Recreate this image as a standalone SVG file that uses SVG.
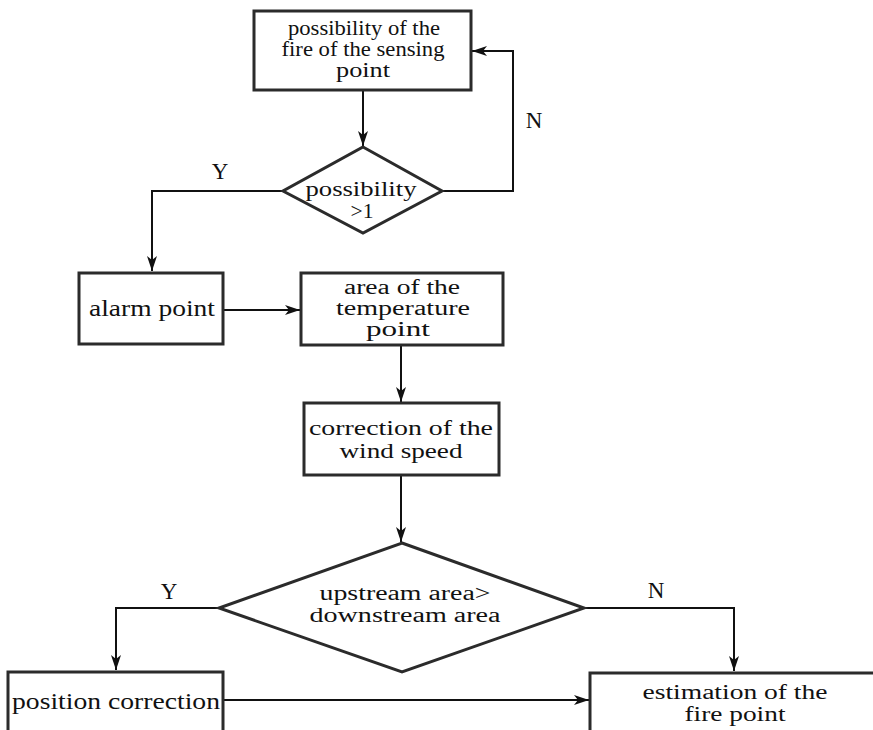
<svg xmlns="http://www.w3.org/2000/svg" width="873" height="730" viewBox="0 0 873 730">
<style>
.box{fill:#fff;stroke:#2b2b2b;stroke-width:3}
.dia{fill:#fff;stroke:#2b2b2b;stroke-width:3;stroke-linejoin:miter}
.t{font-family:"Liberation Serif","Times New Roman",serif;font-size:20px;fill:#111;text-anchor:middle}
.s{font-size:23px}
.lbl{font-family:"Liberation Serif","Times New Roman",serif;font-size:23px;fill:#111;text-anchor:middle}
.c{fill:none;stroke:#111;stroke-width:2}
</style>
<defs>
<marker id="ah" markerUnits="userSpaceOnUse" markerWidth="16" markerHeight="12" refX="15" refY="5" orient="auto">
<path d="M0,0 L15,5 L0,10 L4,5 z" fill="#111"/>
</marker>
</defs>
<rect width="873" height="730" fill="#fff"/>
<g id="connectors">
<path class="c" d="M363,91 L363,146" marker-end="url(#ah)"/>
<path class="c" d="M442,191 L513,191 L513,51 L472,51" marker-end="url(#ah)"/>
<path class="c" d="M283,191 L152,191 L152,271" marker-end="url(#ah)"/>
<path class="c" d="M223,310 L300,310" marker-end="url(#ah)"/>
<path class="c" d="M401,345 L401,402" marker-end="url(#ah)"/>
<path class="c" d="M401,475 L401,542" marker-end="url(#ah)"/>
<path class="c" d="M219,608 L116,608 L116,670" marker-end="url(#ah)"/>
<path class="c" d="M584,608 L734,608 L734,671" marker-end="url(#ah)"/>
<path class="c" d="M223,700 L589,700" marker-end="url(#ah)"/>
<text class="lbl" x="534" y="128">N</text>
<text class="lbl" x="220" y="179">Y</text>
<text class="lbl" x="169" y="599">Y</text>
<text class="lbl" x="656" y="598">N</text>
</g>
<g id="n-possibility">
<rect class="box" x="254" y="11" width="217" height="79"/>
<text class="t" x="364" y="35" textLength="152" lengthAdjust="spacingAndGlyphs">possibility of the</text>
<text class="t" x="363" y="56" textLength="163" lengthAdjust="spacingAndGlyphs">fire of the sensing</text>
<text class="t" x="363" y="77" textLength="54" lengthAdjust="spacingAndGlyphs">point</text>
</g>
<g id="n-decision1">
<polygon class="dia" points="363,147 442,191 363,233 283,191"/>
<text class="t" x="361" y="196" textLength="111" lengthAdjust="spacingAndGlyphs">possibility</text>
<text class="t" x="362" y="218" textLength="23" lengthAdjust="spacingAndGlyphs">&gt;1</text>
</g>
<g id="n-alarm">
<rect class="box" x="79" y="273" width="144" height="71"/>
<text class="t s" x="152" y="316" textLength="126" lengthAdjust="spacingAndGlyphs">alarm point</text>
</g>
<g id="n-area">
<rect class="box" x="301" y="273" width="202" height="72"/>
<text class="t" x="402" y="294" textLength="116" lengthAdjust="spacingAndGlyphs">area of the</text>
<text class="t" x="403" y="315" textLength="134" lengthAdjust="spacingAndGlyphs">temperature</text>
<text class="t" x="398" y="336" textLength="64" lengthAdjust="spacingAndGlyphs">point</text>
</g>
<g id="n-correction">
<rect class="box" x="304" y="403" width="195" height="72"/>
<text class="t" x="401" y="435" textLength="184" lengthAdjust="spacingAndGlyphs">correction of the</text>
<text class="t" x="401" y="458" textLength="123" lengthAdjust="spacingAndGlyphs">wind speed</text>
</g>
<g id="n-decision2">
<polygon class="dia" points="402,543 584,608 402,672 219,608"/>
<text class="t" x="405" y="600" textLength="171" lengthAdjust="spacingAndGlyphs">upstream area&gt;</text>
<text class="t" x="405" y="622" textLength="191" lengthAdjust="spacingAndGlyphs">downstream area</text>
</g>
<g id="n-position">
<rect class="box" x="8" y="672" width="215" height="72"/>
<text class="t s" x="116" y="709" textLength="208" lengthAdjust="spacingAndGlyphs">position correction</text>
</g>
<g id="n-estimation">
<rect class="box" x="590" y="673" width="295" height="72"/>
<text class="t" x="735" y="699" textLength="185" lengthAdjust="spacingAndGlyphs">estimation of the</text>
<text class="t" x="735" y="721" textLength="101" lengthAdjust="spacingAndGlyphs">fire point</text>
</g>
</svg>
